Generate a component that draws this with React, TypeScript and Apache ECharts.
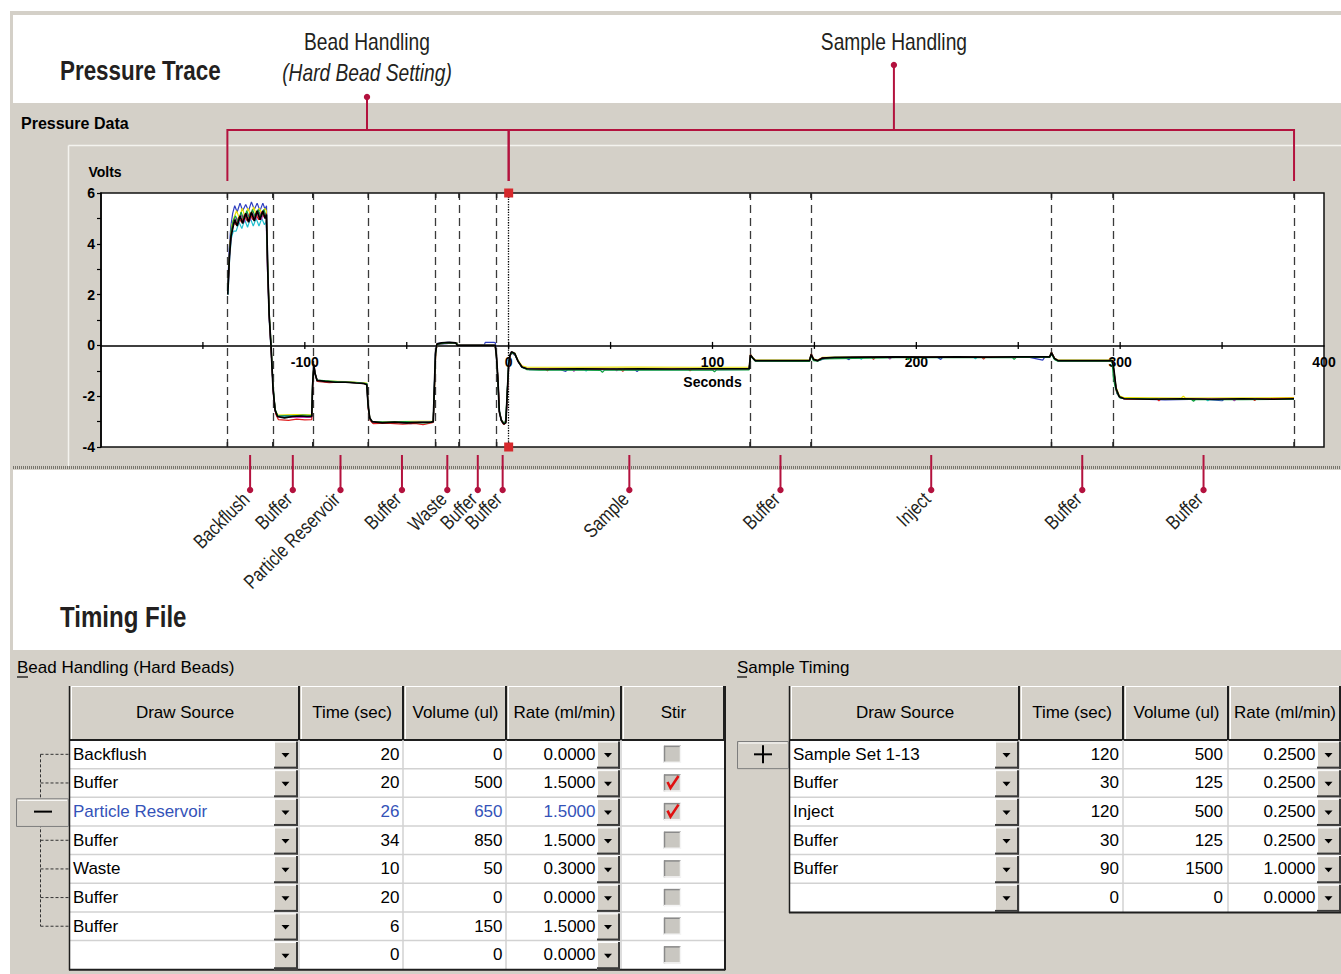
import React, { useEffect, useRef } from "react";
import * as echarts from "echarts";

// ---------- axis setup ----------
const X_MIN = -200;
const X_MAX = 400;
const X_TICK_STEP = 50;
const Y_MIN = -4;
const Y_MAX = 6;
const X_TICK_LABELS = [-100, 0, 100, 200, 300, 400];
const Y_TICK_LABELS = [-4, -2, 0, 2, 4, 6];
const X_AXIS_NAME = "Seconds";
const X_AXIS_NAME_AT = 100;

// ---------- step boundaries (seconds) ----------
const STEP_BOUNDARIES = [-138, -115.7, -96.1, -68.9, -35.8, -24.4, -5.9, 0, 118.4, 148.3, 266.3, 296.5, 385.3];
const INJECT_MARK = 0;
const STEP_LABELS = ["Backflush", "Buffer", "Particle Reservoir", "Buffer", "Waste", "Buffer", "Buffer", "Sample", "Buffer", "Inject", "Buffer", "Buffer"];
const GROUP_NAMES = ["Bead Handling", "Sample Handling"];
const GROUP_SUBTITLES = ["(Hard Bead Setting)", ""];
const GROUP_RANGES = [[-138, 0], [0, 385.3]];
const GROUP_CALLOUT_AT = [-69.5, 189];

// ---------- pressure traces [seconds, volts] ----------
const TRACE_BLUE = [[-137.9, 2.2], [-137.1, 3.8], [-136.3, 4.7], [-135.4, 5.2], [-134.4, 5.5], [-133.2, 5.25], [-131.8, 5.6], [-130.5, 5.3], [-129.0, 5.55], [-127.6, 5.3], [-126.2, 5.65], [-124.8, 5.35], [-123.4, 5.6], [-122.0, 5.3], [-120.6, 5.6], [-119.5, 5.35], [-118.8, 5.5], [-118.2, 3.2], [-117.4, 1.0], [-116.5, -0.2], [-115.5, -1.8], [-114.5, -2.6], [-113.3, -2.78], [-108, -2.75], [-103, -2.8], [-96.6, -2.78], [-96.1, -1.4], [-95.5, -0.8], [-94.8, -1.15], [-93.8, -1.4], [-86, -1.46], [-78, -1.43], [-71, -1.5], [-69.5, -1.5], [-68.9, -2.4], [-68.0, -2.9], [-66.5, -3.05], [-58, -3.0], [-48, -3.08], [-40, -3.0], [-37.0, -3.02], [-36.3, -1.3], [-35.8, -0.2], [-35.0, 0.08], [-30, 0.12], [-25.5, 0.1], [-25.0, 0.0], [-12, 0.0], [-11.5, 0.12], [-7.2, 0.12], [-6.5, 0.1], [-6.0, -0.5], [-5.2, -1.5], [-4.4, -2.7], [-3.2, -3.0], [-2.2, -3.05], [-1.2, -2.9], [-0.6, -1.7], [0.1, -0.65], [0.8, -0.35], [1.6, -0.3], [3.2, -0.4], [5.0, -0.7], [7.0, -0.88], [10, -0.95], [25, -0.95], [28, -1.02], [29, -0.95], [45, -0.94], [62, -0.96], [63, -1.03], [64, -0.95], [85, -0.94], [105, -0.95], [118, -0.94], [118.7, -0.4], [119.8, -0.5], [121.2, -0.62], [135, -0.62], [147.6, -0.62], [148.5, -0.33], [149.8, -0.58], [152, -0.6], [155, -0.52], [165, -0.48], [167, -0.56], [168, -0.47], [190, -0.47], [210, -0.46], [212, -0.55], [213, -0.46], [240, -0.47], [255, -0.46], [262, -0.58], [263, -0.46], [265.4, -0.46], [266.4, -0.3], [268, -0.55], [270, -0.62], [296.2, -0.62], [297.2, -1.2], [298.4, -1.9], [300, -2.05], [310, -2.12], [322, -2.15], [340, -2.12], [350, -2.18], [351, -2.12], [370, -2.13], [385.3, -2.12]];

const TRACE_RED = [[-137.6, 2.4], [-136.8, 3.9], [-136.0, 4.5], [-135.0, 4.85], [-133.8, 4.75], [-132.5, 5.05], [-131.1, 4.85], [-129.7, 5.15], [-128.3, 4.9], [-126.9, 5.2], [-125.5, 4.95], [-124.1, 5.2], [-122.7, 4.95], [-121.3, 5.25], [-119.9, 5.05], [-118.9, 5.2], [-118.2, 2.8], [-117.3, 0.9], [-116.4, -0.4], [-115.4, -1.9], [-114.3, -2.7], [-113.0, -2.92], [-108, -2.95], [-104, -2.9], [-100, -2.93], [-96.6, -2.92], [-96.2, -1.7], [-95.6, -0.8], [-94.9, -1.15], [-93.9, -1.42], [-88, -1.47], [-82, -1.44], [-76, -1.47], [-70, -1.52], [-69.5, -1.6], [-68.9, -2.5], [-68.0, -2.95], [-66.5, -3.08], [-60, -3.06], [-52, -3.1], [-46, -3.07], [-42, -3.12], [-38, -3.05], [-37, -3.03], [-36.3, -1.4], [-35.8, -0.3], [-35.1, 0.06], [-28, 0.1], [-25.3, 0.08], [-25.0, 0.0], [-6.6, 0.0], [-6.0, -0.45], [-5.2, -1.4], [-4.5, -2.65], [-3.4, -3.0], [-2.3, -3.12], [-1.3, -3.0], [-0.6, -1.8], [0.1, -0.7], [0.7, -0.42], [1.5, -0.28], [3.1, -0.36], [4.8, -0.66], [6.8, -0.86], [9.5, -0.93], [18, -0.94], [19, -1.0], [20, -0.93], [40, -0.93], [55, -0.94], [56, -1.02], [57, -0.93], [88, -0.93], [89, -1.0], [90, -0.93], [118, -0.93], [118.6, -0.37], [119.7, -0.5], [121.1, -0.6], [138, -0.6], [147.6, -0.61], [148.4, -0.34], [149.7, -0.56], [151.6, -0.6], [154, -0.49], [170, -0.47], [178, -0.46], [179, -0.55], [180, -0.46], [205, -0.46], [232, -0.46], [233, -0.54], [234, -0.46], [265.4, -0.46], [266.3, -0.28], [267.9, -0.53], [269.6, -0.6], [290, -0.61], [296.2, -0.6], [297.0, -1.1], [298.1, -1.8], [299.7, -2.04], [303, -2.12], [318, -2.1], [319, -2.18], [320, -2.1], [345, -2.12], [365, -2.1], [366, -2.17], [367, -2.1], [385.3, -2.08]];

const TRACE_GREEN = [[-137.7, 2.3], [-136.9, 3.7], [-136.1, 4.5], [-135.2, 4.9], [-134.0, 5.1], [-132.7, 4.85], [-131.3, 5.25], [-129.9, 4.95], [-128.5, 5.3], [-127.1, 5.0], [-125.7, 5.35], [-124.3, 5.05], [-122.9, 5.35], [-121.5, 5.05], [-120.1, 5.35], [-119.0, 5.1], [-118.3, 3.3], [-117.5, 1.3], [-116.6, 0.1], [-115.6, -1.6], [-114.6, -2.5], [-113.4, -2.76], [-107, -2.78], [-101, -2.74], [-96.6, -2.76], [-96.2, -1.5], [-95.6, -0.78], [-95.0, -1.1], [-94.0, -1.37], [-84, -1.43], [-74, -1.46], [-69.6, -1.5], [-69.0, -2.35], [-68.1, -2.88], [-66.8, -3.0], [-60, -3.02], [-50, -3.0], [-45, -3.04], [-40, -3.05], [-37, -3.0], [-36.4, -1.5], [-35.9, -0.35], [-35.2, 0.04], [-30, 0.1], [-25.4, 0.09], [-25.0, 0.0], [-6.6, 0.0], [-6.1, -0.35], [-5.4, -1.2], [-4.7, -2.5], [-3.7, -2.92], [-2.5, -3.07], [-1.5, -3.02], [-0.8, -2.0], [-0.1, -0.8], [0.5, -0.45], [1.3, -0.3], [2.9, -0.34], [4.5, -0.6], [6.3, -0.85], [8.8, -0.95], [15, -0.97], [30, -0.96], [45, -0.98], [46, -1.06], [47, -0.97], [70, -0.96], [100, -0.97], [101, -1.04], [102, -0.96], [118, -0.96], [118.6, -0.42], [119.6, -0.5], [121, -0.62], [147.6, -0.63], [148.3, -0.4], [149.5, -0.6], [151.5, -0.62], [154, -0.53], [185, -0.49], [195, -0.47], [196, -0.56], [197, -0.47], [225, -0.48], [247, -0.47], [248, -0.55], [249, -0.47], [265.4, -0.47], [266.2, -0.32], [267.7, -0.55], [269.4, -0.62], [296.0, -0.62], [296.6, -1.2], [297.4, -1.6], [298.6, -1.9], [300, -2.08], [325, -2.12], [335, -2.13], [336, -2.2], [337, -2.13], [360, -2.14], [385.3, -2.12]];

const TRACE_YELLOW = [[-137.5, 2.6], [-136.7, 4.0], [-135.9, 4.7], [-134.9, 5.0], [-133.5, 5.3], [-132.1, 5.0], [-130.7, 5.4], [-129.3, 5.05], [-127.9, 5.4], [-126.5, 5.1], [-125.1, 5.45], [-123.7, 5.1], [-122.3, 5.4], [-120.9, 5.15], [-119.6, 5.4], [-118.9, 5.3], [-118.2, 3.1], [-117.4, 1.1], [-116.5, -0.1], [-115.5, -1.75], [-114.5, -2.55], [-113.3, -2.74], [-105, -2.72], [-96.6, -2.73], [-96.2, -1.55], [-95.6, -0.82], [-94.9, -1.12], [-93.9, -1.4], [-80, -1.43], [-69.6, -1.48], [-68.9, -2.4], [-68.0, -2.9], [-66.6, -3.02], [-55, -3.0], [-37, -2.98], [-36.3, -1.45], [-35.8, -0.3], [-35.1, 0.07], [-25.3, 0.1], [-25.0, 0.0], [-6.6, 0.0], [-6.0, -0.42], [-5.3, -1.3], [-4.6, -2.6], [-3.5, -2.95], [-2.4, -3.05], [-1.4, -2.98], [-0.7, -1.85], [0.0, -0.72], [0.6, -0.4], [1.4, -0.26], [3.0, -0.3], [4.6, -0.58], [6.5, -0.8], [9.0, -0.86], [30, -0.86], [60, -0.85], [90, -0.86], [118, -0.86], [118.6, -0.35], [119.6, -0.46], [121, -0.58], [147.6, -0.58], [148.4, -0.33], [149.6, -0.53], [151.5, -0.58], [154, -0.47], [200, -0.44], [265.4, -0.44], [266.3, -0.27], [267.8, -0.5], [269.5, -0.58], [296.2, -0.58], [297.0, -1.0], [298.0, -1.65], [299.6, -1.98], [302, -2.06], [330, -2.07], [331, -2.0], [332, -2.07], [385.3, -2.06]];

const TRACE_CYAN = [[-137.7, 2.0], [-136.9, 3.4], [-136.1, 4.2], [-135.1, 4.5], [-133.7, 4.5], [-132.3, 4.85], [-130.9, 4.6], [-129.5, 4.95], [-128.1, 4.65], [-126.7, 5.0], [-125.3, 4.7], [-123.9, 5.0], [-122.5, 4.7], [-121.1, 5.0], [-119.8, 4.75], [-118.9, 4.9], [-118.2, 2.7], [-117.3, 0.8], [-116.4, -0.4], [-115.4, -1.85], [-114.4, -2.6], [-113.2, -2.8], [-104, -2.79], [-96.6, -2.8], [-96.2, -1.6], [-95.6, -0.8], [-94.9, -1.15], [-93.9, -1.42], [-78, -1.46], [-69.6, -1.52], [-69.0, -2.4], [-68.1, -2.9], [-66.7, -3.04], [-48, -3.03], [-37, -3.01], [-36.4, -1.5], [-35.9, -0.32], [-35.2, 0.05], [-25.4, 0.1], [-25.0, 0.0], [-6.6, 0.0], [-6.0, -0.4], [-5.3, -1.3], [-4.6, -2.6], [-3.6, -2.97], [-2.4, -3.08], [-1.4, -3.0], [-0.7, -1.85], [0.0, -0.73], [0.6, -0.42], [1.4, -0.27], [3.0, -0.33], [4.6, -0.62], [6.5, -0.86], [9.0, -0.93], [37, -0.93], [38, -1.01], [39, -0.93], [75, -0.94], [110, -0.93], [118, -0.93], [118.6, -0.38], [119.6, -0.49], [121, -0.6], [147.6, -0.6], [148.4, -0.36], [149.6, -0.56], [151.5, -0.6], [154, -0.49], [172, -0.47], [173, -0.55], [174, -0.46], [228, -0.46], [229, -0.53], [230, -0.46], [265.4, -0.46], [266.3, -0.29], [267.8, -0.52], [269.5, -0.6], [296.2, -0.6], [297.0, -1.05], [298.0, -1.72], [299.6, -2.03], [302, -2.11], [342, -2.11], [343, -2.18], [344, -2.11], [385.3, -2.1]];

const TRACE_MAGENTA = [[-137.6, 2.3], [-136.8, 3.7], [-136.0, 4.4], [-135.0, 4.75], [-133.9, 5.0], [-132.6, 4.8], [-131.2, 5.15], [-129.8, 4.85], [-128.4, 5.2], [-127.0, 4.9], [-125.6, 5.2], [-124.2, 4.95], [-122.8, 5.25], [-121.4, 4.95], [-120.0, 5.25], [-119.0, 5.05], [-118.3, 2.9], [-117.4, 1.0], [-116.5, -0.2], [-115.5, -1.8], [-114.5, -2.6], [-113.3, -2.82], [-98, -2.83], [-96.6, -2.82], [-96.2, -1.6], [-95.6, -0.78], [-94.9, -1.13], [-93.9, -1.4], [-72, -1.48], [-69.6, -1.53], [-69.0, -2.4], [-68.1, -2.88], [-66.7, -3.03], [-37, -3.02], [-36.4, -1.5], [-35.9, -0.3], [-35.2, 0.05], [-25.4, 0.1], [-25.0, 0.0], [-6.6, 0.0], [-6.0, -0.4], [-5.3, -1.3], [-4.6, -2.6], [-3.6, -2.96], [-2.4, -3.09], [-1.4, -3.02], [-0.7, -1.9], [0.0, -0.74], [0.6, -0.41], [1.4, -0.26], [3.0, -0.33], [4.6, -0.62], [6.5, -0.86], [9.0, -0.92], [31, -0.92], [32, -1.02], [33, -0.92], [52, -0.93], [53, -1.0], [54, -0.93], [118, -0.93], [118.6, -0.38], [119.6, -0.49], [121, -0.6], [147.6, -0.6], [148.4, -0.36], [149.6, -0.56], [151.5, -0.6], [154, -0.49], [186, -0.46], [187, -0.54], [188, -0.46], [265.4, -0.46], [266.3, -0.29], [267.8, -0.52], [269.5, -0.6], [296.2, -0.6], [297.0, -1.05], [298.0, -1.72], [299.6, -2.03], [302, -2.11], [355, -2.11], [356, -2.18], [357, -2.11], [385.3, -2.1]];

const TRACE_BLACK = [[-137.8, 2.0], [-137.0, 3.5], [-136.2, 4.3], [-135.4, 4.6], [-134.4, 4.95], [-133.2, 4.7], [-131.8, 5.1], [-130.5, 4.8], [-129.0, 5.2], [-127.6, 4.85], [-126.2, 5.25], [-124.8, 4.9], [-123.4, 5.3], [-122.0, 4.95], [-120.6, 5.3], [-119.5, 5.0], [-118.8, 5.15], [-118.2, 3.0], [-117.5, 1.2], [-116.6, 0.0], [-115.6, -1.7], [-114.6, -2.55], [-113.4, -2.8], [-110, -2.85], [-106, -2.8], [-102, -2.78], [-99, -2.8], [-96.6, -2.8], [-96.2, -1.6], [-95.6, -0.75], [-95.0, -1.1], [-94.0, -1.38], [-90, -1.42], [-85, -1.45], [-80, -1.45], [-75, -1.48], [-71, -1.5], [-69.6, -1.55], [-69.0, -2.3], [-68.2, -2.85], [-67.0, -3.0], [-62, -3.05], [-56, -3.02], [-50, -3.05], [-44, -3.03], [-38, -3.02], [-37.0, -3.0], [-36.4, -1.5], [-35.9, -0.3], [-35.2, 0.05], [-33, 0.1], [-29, 0.12], [-26, 0.1], [-25.2, 0.0], [-12, 0.0], [-6.6, 0.0], [-6.0, -0.4], [-5.3, -1.3], [-4.6, -2.6], [-3.6, -2.95], [-2.4, -3.1], [-1.4, -3.05], [-0.7, -1.9], [0.0, -0.75], [0.6, -0.4], [1.4, -0.25], [3.0, -0.32], [4.6, -0.62], [6.5, -0.85], [9.0, -0.92], [20, -0.93], [35, -0.92], [50, -0.93], [65, -0.92], [80, -0.93], [95, -0.92], [110, -0.92], [118.0, -0.92], [118.6, -0.38], [119.6, -0.48], [121.0, -0.6], [130, -0.6], [140, -0.6], [147.6, -0.6], [148.4, -0.36], [149.6, -0.55], [151.5, -0.6], [154, -0.5], [160, -0.47], [175, -0.46], [190, -0.45], [205, -0.46], [220, -0.45], [235, -0.46], [250, -0.45], [265.4, -0.45], [266.3, -0.28], [267.8, -0.52], [269.5, -0.6], [280, -0.6], [290, -0.6], [296.2, -0.6], [297.0, -1.0], [298.0, -1.7], [299.6, -2.02], [302, -2.1], [315, -2.12], [330, -2.1], [345, -2.12], [360, -2.1], [375, -2.12], [385.3, -2.1]];

const TRACES = [
  { name: "Run 1", color: "#2f3fbf", data: TRACE_BLUE },
  { name: "Run 2", color: "#e8e000", data: TRACE_YELLOW },
  { name: "Run 3", color: "#20c0d0", data: TRACE_CYAN },
  { name: "Run 4", color: "#c030c0", data: TRACE_MAGENTA },
  { name: "Run 5", color: "#e02020", data: TRACE_RED },
  { name: "Run 6", color: "#10a040", data: TRACE_GREEN },
  { name: "Run 7", color: "#000000", data: TRACE_BLACK },
];

// ---------- timing tables ----------
const BEAD_HEADERS = ["Draw Source", "Time (sec)", "Volume (ul)", "Rate (ml/min)", "Stir"];
const BEAD_SOURCES = ["Backflush", "Buffer", "Particle Reservoir", "Buffer", "Waste", "Buffer", "Buffer", ""];
const BEAD_TIMES = [20, 20, 26, 34, 10, 20, 6, 0];
const BEAD_VOLUMES = [0, 500, 650, 850, 50, 0, 150, 0];
const BEAD_RATES = ["0.0000", "1.5000", "1.5000", "1.5000", "0.3000", "0.0000", "1.5000", "0.0000"];
const BEAD_STIR = [false, true, true, false, false, false, false, false];
const BEAD_SELECTED_ROW = 2;

const SAMPLE_HEADERS = ["Draw Source", "Time (sec)", "Volume (ul)", "Rate (ml/min)"];
const SAMPLE_SOURCES = ["Sample Set 1-13", "Buffer", "Inject", "Buffer", "Buffer", ""];
const SAMPLE_TIMES = [120, 30, 120, 30, 90, 0];
const SAMPLE_VOLUMES = [500, 125, 500, 125, 1500, 0];
const SAMPLE_RATES = ["0.2500", "0.2500", "0.2500", "0.2500", "1.0000", "0.0000"];

// ---------- styling ----------
const GRAY = "#d4d0c8";
const CRIMSON = "#b3123e";
const SANS = '"Liberation Sans", Arial, sans-serif';
const INK = "#231f20";
const CONDENSE = 0.8;

function buildGraphic(px: (v: number) => number, py: (v: number) => number) {
  const els: any[] = [];
  const R = (x: number, y: number, w: number, h: number, fill: string, z = 10, stroke: string | null = null, lw = 0) =>
    els.push({ type: "rect", silent: true, z, shape: { x, y, width: w, height: h }, style: { fill, stroke, lineWidth: lw } });
  const L = (x1: number, y1: number, x2: number, y2: number, stroke: string, lw = 1, dash: any = null, z = 11) =>
    els.push({ type: "line", silent: true, z, shape: { x1, y1, x2, y2 }, style: { stroke, lineWidth: lw, lineDash: dash } });
  const T = (x: number, y: number, text: string, o: any = {}) =>
    els.push({
      type: "text", silent: true, z: o.z ?? 13, x, y, rotation: o.rotation ?? 0, scaleX: o.sx ?? 1,
      style: {
        text, fill: o.fill ?? "#000", fontSize: o.size ?? 17, fontFamily: SANS,
        fontWeight: o.weight ?? "normal", fontStyle: o.fstyle ?? "normal",
        align: o.align ?? "left", verticalAlign: o.va ?? "middle",
      },
    });
  const C = (cx: number, cy: number, r: number, fill: string) =>
    els.push({ type: "circle", silent: true, z: 12, shape: { cx, cy, r }, style: { fill } });
  const TRI = (cx: number, cy: number) =>
    els.push({ type: "polygon", silent: true, z: 12, shape: { points: [[cx - 4, cy - 2], [cx + 4, cy - 2], [cx, cy + 2.5]] }, style: { fill: "#000" } });

  // page backgrounds
  R(10, 11, 1331, 963, GRAY, -10);
  R(13, 15, 1328, 88, "#fff", -9);
  R(13, 470, 1328, 180, "#fff", -9);
  L(68.5, 145.5, 1341, 145.5, "#f4f3ef", 1.5, null, -8);
  L(68.5, 145.5, 68.5, 466, "#f4f3ef", 1.5, null, -8);
  L(13, 467.5, 1341, 467.5, "#77746c", 3, [1, 1], -8);

  // titles
  T(60, 70, "Pressure Trace", { size: 28, weight: "bold", fill: INK, sx: CONDENSE });
  T(60, 617, "Timing File", { size: 29, weight: "bold", fill: INK, sx: 0.83 });
  T(21, 123, "Pressure Data", { size: 16, weight: "bold" });

  // x-axis ticks, tick labels along the zero line, and the axis name
  const y0 = py(0);
  for (let v = X_MIN + X_TICK_STEP; v < X_MAX; v += X_TICK_STEP) {
    const x = px(v);
    L(x, y0 - 3.5, x, y0 + 3.5, "#000", 1.3, null, 6);
  }
  X_TICK_LABELS.forEach((v) => T(px(v), y0 + 17, String(v), { size: 14, weight: "bold", align: "center", z: 6 }));
  T(px(X_AXIS_NAME_AT), y0 + 37, X_AXIS_NAME, { size: 14, weight: "bold", align: "center", z: 6 });

  // small ticks on the plot frame at every step boundary
  const yTop = py(Y_MAX);
  const yBot = py(Y_MIN);
  STEP_BOUNDARIES.forEach((v) => {
    const x = px(v);
    L(x, yTop, x, yTop + 5, "#222", 1.5, null, 6);
    L(x, yBot - 5, x, yBot, "#222", 1.5, null, 6);
  });

  // group callouts above the plot
  const BR_Y = 130;
  GROUP_RANGES.forEach((rg, i) => {
    const a = px(rg[0]);
    const b = px(rg[1]);
    L(a, BR_Y, b, BR_Y, CRIMSON, 2);
    L(a, BR_Y - 1, a, 181, CRIMSON, 2);
    L(b, BR_Y - 1, b, 181, CRIMSON, 2);
    const c = px(GROUP_CALLOUT_AT[i]);
    const top = GROUP_SUBTITLES[i] ? 97 : 65;
    L(c, top, c, BR_Y, CRIMSON, 2);
    C(c, top, 3.2, CRIMSON);
    T(c, 42, GROUP_NAMES[i], { size: 24, align: "center", fill: INK, sx: CONDENSE });
    if (GROUP_SUBTITLES[i]) T(c, 73, GROUP_SUBTITLES[i], { size: 24, align: "center", fstyle: "italic", fill: INK, sx: CONDENSE });
  });

  // inject markers (red squares on the plot frame)
  const xi = px(INJECT_MARK);
  R(xi - 4.5, yTop - 4.5, 9, 9, "#d6282c", 20);
  R(xi - 4.5, yBot - 4.5, 9, 9, "#d6282c", 20);

  // step callouts below the plot
  for (let i = 0; i < STEP_LABELS.length; i++) {
    const c = px((STEP_BOUNDARIES[i] + STEP_BOUNDARIES[i + 1]) / 2);
    L(c, 455, c, 490, CRIMSON, 2);
    C(c, 490, 3.2, CRIMSON);
    T(c - 4, 496, STEP_LABELS[i], { size: 20, align: "right", va: "middle", rotation: Math.PI / 4, fill: INK, sx: CONDENSE });
  }

  // ---------- tables ----------
  const ROW_H = 28.65;
  const HT = 686;
  const HB = 740;
  const rowTop = (r: number) => HB + r * ROW_H;
  const rowMid = (r: number) => HB + (r + 0.5) * ROW_H;

  const button = (x: number, y: number, w: number, h: number) => {
    R(x, y, w, h, GRAY, 11);
    L(x, y + 0.5, x + w, y + 0.5, "#ffffff", 1);
    L(x + 0.5, y, x + 0.5, y + h, "#ffffff", 1);
    L(x, y + h - 1, x + w, y + h - 1, "#3a3a3a", 2);
    L(x + w - 1, y, x + w - 1, y + h, "#3a3a3a", 2);
    TRI(x + w / 2 - 0.5, y + h / 2);
  };

  const header = (cols: number[], heads: string[]) => {
    for (let i = 0; i < cols.length - 1; i++) {
      const a = cols[i];
      const b = cols[i + 1];
      R(a, HT, b - a, HB - HT, GRAY, 10);
      L(a + 1, HT + 0.5, b - 1, HT + 0.5, "#ffffff", 1);
      L(a + 1.5, HT, a + 1.5, HB, "#ffffff", 1);
      L(b - 1, HT, b - 1, HB, "#1e1e1e", 2);
      T((a + b) / 2, 712, heads[i], { align: "center" });
    }
    L(cols[0], HB, cols[cols.length - 1], HB, "#1e1e1e", 2);
  };

  const body = (cols: number[], nRows: number) => {
    const x0 = cols[0];
    const x1 = cols[cols.length - 1];
    R(x0, HB + 1, x1 - x0, nRows * ROW_H - 1, "#ffffff", 10);
    for (let r = 1; r < nRows; r++) L(x0, rowTop(r), x1, rowTop(r), "#d2d2d2", 1.5);
    for (let i = 1; i < cols.length - 1; i++) L(cols[i] - 1, HB, cols[i] - 1, rowTop(nRows), "#d2d2d2", 1.5);
    L(x0 - 0.5, HT, x0 - 0.5, rowTop(nRows) + 1, "#1e1e1e", 1.5);
    L(x0 - 1, rowTop(nRows) + 0.5, x1, rowTop(nRows) + 0.5, "#1e1e1e", 2);
  };

  // left table: bead handling
  const LC = [70, 300, 404, 507, 622, 725];
  T(17, 667, "Bead Handling (Hard Beads)");
  L(17, 677, 28, 677, "#000", 1.2);
  header(LC, BEAD_HEADERS);
  body(LC, BEAD_SOURCES.length);
  L(725, HT, 725, rowTop(BEAD_SOURCES.length) + 1, "#1e1e1e", 2);
  BEAD_SOURCES.forEach((s, r) => {
    const top = rowTop(r);
    const m = rowMid(r);
    const col = r === BEAD_SELECTED_ROW ? "#3452b8" : "#000";
    button(274, top + 1.5, 24, ROW_H - 1.5);
    button(597, top + 1.5, 23, ROW_H - 1.5);
    T(73, m, s, { fill: col });
    T(399.5, m, String(BEAD_TIMES[r]), { align: "right", fill: col });
    T(502.5, m, String(BEAD_VOLUMES[r]), { align: "right", fill: col });
    T(595.5, m, BEAD_RATES[r], { align: "right", fill: col });
    // stir checkbox
    R(664, m - 8.5, 17, 17, "#c9c7c1", 11);
    L(664, m - 8, 681, m - 8, "#8a8a8a", 1.5);
    L(664.5, m - 8.5, 664.5, m + 8.5, "#8a8a8a", 1.5);
    L(664, m + 8, 681, m + 8, "#f4f4f4", 1.5);
    L(680.5, m - 8.5, 680.5, m + 8.5, "#f4f4f4", 1.5);
    if (BEAD_STIR[r]) {
      els.push({ type: "polyline", silent: true, z: 13, shape: { points: [[667.5, m - 1], [670.5, m + 5], [678.5, m - 7]] }, style: { stroke: "#e01010", lineWidth: 2.6, fill: null } });
    }
  });
  // tree lines and collapse button
  const TX = 40.5;
  L(TX, rowMid(0), TX, rowMid(BEAD_SOURCES.length - 2), "#333", 1, [3, 2]);
  for (let r = 0; r < BEAD_SOURCES.length - 1; r++) {
    if (r !== BEAD_SELECTED_ROW) L(TX, rowMid(r), 69, rowMid(r), "#333", 1, [3, 2]);
  }
  const sb = rowTop(BEAD_SELECTED_ROW);
  R(16.5, sb + 1.5, 52, ROW_H - 1, GRAY, 12, "#7d7d7d", 1);
  L(18, sb + 3, 67, sb + 3, "#ffffff", 1, null, 12);
  L(34, rowMid(BEAD_SELECTED_ROW), 52, rowMid(BEAD_SELECTED_ROW), "#000", 2, null, 13);

  // right table: sample timing
  const RC = [790, 1020, 1124, 1229, 1341];
  T(737, 667, "Sample Timing");
  L(737, 677, 747, 677, "#000", 1.2);
  header(RC, SAMPLE_HEADERS);
  body(RC, SAMPLE_SOURCES.length);
  SAMPLE_SOURCES.forEach((s, r) => {
    const top = rowTop(r);
    const m = rowMid(r);
    button(995, top + 1.5, 24, ROW_H - 1.5);
    button(1317, top + 1.5, 24, ROW_H - 1.5);
    T(793, m, s);
    T(1119, m, String(SAMPLE_TIMES[r]), { align: "right" });
    T(1223, m, String(SAMPLE_VOLUMES[r]), { align: "right" });
    T(1315.5, m, SAMPLE_RATES[r], { align: "right" });
  });
  const pt = rowTop(0);
  R(737.5, pt + 1.5, 51, ROW_H - 1.5, GRAY, 12, "#7d7d7d", 1);
  L(739, pt + 3, 787, pt + 3, "#ffffff", 1, null, 12);
  L(754, rowMid(0), 772, rowMid(0), "#000", 2, null, 13);
  L(763, rowMid(0) - 9, 763, rowMid(0) + 9, "#000", 2, null, 13);

  return els;
}

export default function App() {
  const ref = useRef<HTMLDivElement>(null);
  useEffect(() => {
    document.body.style.margin = "0";
    document.body.style.overflow = "hidden";
    const chart = echarts.init(ref.current as HTMLDivElement, null, { renderer: "svg" });
    const axisFont = { color: "#000", fontWeight: "bold", fontSize: 14, fontFamily: SANS };
    const boundaryLines: any[] = STEP_BOUNDARIES.filter((v) => v !== INJECT_MARK).map((v) => ({ xAxis: v }));
    boundaryLines.push({ xAxis: INJECT_MARK, lineStyle: { type: "dotted", color: "#000", width: 1.3 } });

    chart.setOption({
      animation: false,
      backgroundColor: "transparent",
      grid: { left: 101, top: 193, width: 1223, height: 254, show: true, backgroundColor: "#ffffff", borderColor: "#111", borderWidth: 1.5, containLabel: false },
      xAxis: {
        type: "value", min: X_MIN, max: X_MAX, interval: X_TICK_STEP,
        axisLine: { onZero: true, lineStyle: { color: "#000", width: 1.5 } },
        axisTick: { show: false },
        axisLabel: { show: false },
        splitLine: { show: false },
      },
      yAxis: {
        type: "value", min: Y_MIN, max: Y_MAX, interval: 1,
        axisLine: { show: true, onZero: false, lineStyle: { color: "#000", width: 1.5 } },
        axisTick: { show: true, length: 4, lineStyle: { color: "#000", width: 1.2 } },
        axisLabel: { ...axisFont, interval: 0, margin: 6, formatter: (v: number) => (Y_TICK_LABELS.includes(v) ? String(v) : "") },
        splitLine: { show: false },
        name: "Volts", nameLocation: "end", nameGap: 14, nameTextStyle: { ...axisFont, align: "center", padding: [0, 0, 0, 8] },
      },
      series: TRACES.map((t, i) => ({
        type: "line",
        name: t.name,
        data: t.data,
        symbol: "none",
        silent: true,
        z: 3 + i,
        lineStyle: { color: t.color, width: i === TRACES.length - 1 ? 1.7 : 1.2 },
        itemStyle: { color: t.color },
        markLine: i === 0 ? {
          silent: true, symbol: ["none", "none"], label: { show: false },
          lineStyle: { color: "#3a3a3a", type: [8, 5], width: 1.3 },
          data: boundaryLines,
        } : undefined,
      })),
    });

    const px = (v: number) => {
      const p = chart.convertToPixel({ xAxisIndex: 0 }, v) as any;
      return typeof p === "number" ? p : 101 + ((v - X_MIN) / (X_MAX - X_MIN)) * 1223;
    };
    const py = (v: number) => {
      const p = chart.convertToPixel({ yAxisIndex: 0 }, v) as any;
      return typeof p === "number" ? p : 447 - ((v - Y_MIN) / (Y_MAX - Y_MIN)) * 254;
    };
    chart.setOption({ graphic: { elements: buildGraphic(px, py) } });
    return () => chart.dispose();
  }, []);
  return <div ref={ref} style={{ position: "absolute", left: 0, top: 0, width: 1341, height: 974 }} />;
}
